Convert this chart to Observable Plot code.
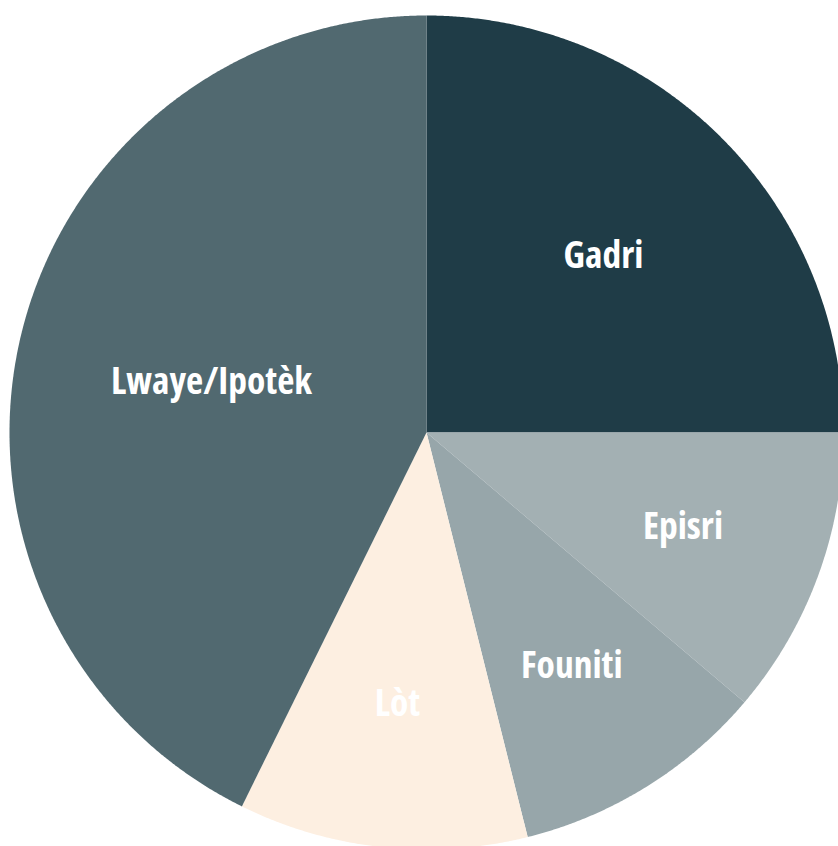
<!DOCTYPE html>
<html>
<head>
<meta charset="utf-8">
<script src="https://cdn.jsdelivr.net/npm/d3@7"></script>
<script src="https://cdn.jsdelivr.net/npm/@observablehq/plot@0.6"></script>
<style>
  html, body { margin: 0; padding: 0; background: #fff; overflow: hidden; }
  #chart svg { display: block; overflow: visible; }
</style>
</head>
<body>
<div id="chart"></div>
<script>
const categories = ["Gadri", "Episri", "Founiti", "Lòt", "Lwaye/Ipotèk"];
const values = [25, 11.2, 9.9, 11.2, 42.7];
const colors = ["#1f3c47", "#a3b0b3", "#97a6aa", "#fdefe1", "#516970"];

const total = d3.sum(values);
const DEG = Math.PI / 180;
const pt = (a, r) => [r * Math.sin(a), -r * Math.cos(a)];

let acc = 0;
const slices = categories.map((name, i) => {
  const a0 = acc / total * 2 * Math.PI;
  acc += values[i];
  const a1 = acc / total * 2 * Math.PI;
  const ring = [[0, 0]];
  const n = Math.max(2, Math.ceil((a1 - a0) / (0.25 * DEG)));
  for (let k = 0; k <= n; k++) ring.push(pt(a0 + (a1 - a0) * k / n, 1));
  ring.push([0, 0]);
  const frac = values[i] / total;
  const mid = (a0 + a1) / 2;
  const lr = 0.70 - 0.40 * frac;
  const [lx, ly] = pt(mid, lr);
  return {
    type: "Feature",
    properties: {name, lx, ly},
    geometry: {type: "Polygon", coordinates: [ring]}
  };
});

const outline = {type: "Polygon", coordinates: [d3.range(0, 361, 1).map(d => pt(d * DEG, 1))]};

const chart = Plot.plot({
  width: 838,
  height: 846,
  marginLeft: 9,
  marginRight: -5,
  marginTop: 15,
  marginBottom: -3,
  projection: {type: "identity", domain: outline},
  color: {domain: categories, range: colors},
  marks: [
    Plot.geo(slices, {fill: d => d.properties.name, stroke: null}),
    Plot.text(slices, {
      x: d => d.properties.lx,
      y: d => d.properties.ly,
      text: d => d.properties.name,
      fill: "#ffffff",
      fontSize: 37.5,
      fontWeight: 700,
      fontFamily: "'Open Sans', sans-serif",
      stroke: null
    })
  ]
});
chart.querySelectorAll("text").forEach(t => t.style.fontStretch = "condensed");
document.getElementById("chart").appendChild(chart);
</script>
</body>
</html>
